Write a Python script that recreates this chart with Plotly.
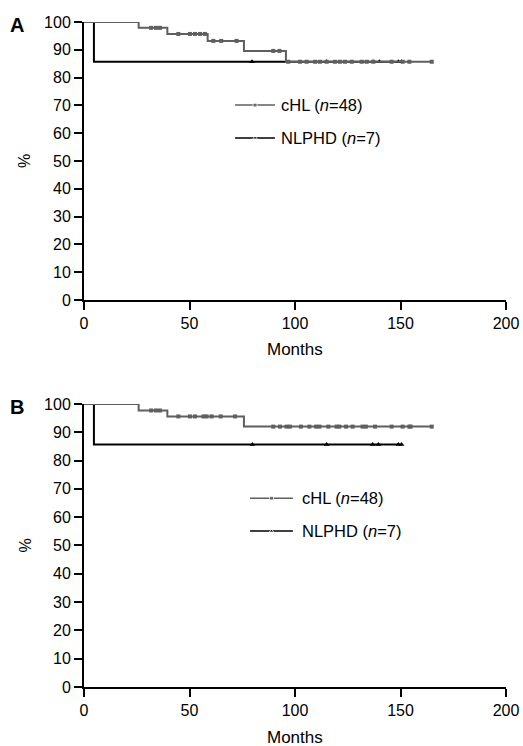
import numpy as np
import plotly.graph_objects as go

# ---------------- data ----------------
# Panel A
chl_a_times = [0, 25.9, 39.5, 58.6, 75.8, 95.7, 165.0]
chl_a_surv = [100, 97.9, 95.7, 93.2, 89.6, 85.7, 85.7]
chl_a_censor = [31.8, 34.1, 36.0, 44.7, 50.2, 52.6, 55.0, 57.3, 61.3, 65.0, 72.3,
                89.7, 92.6, 96.8, 102.4, 105.5, 109.5, 111.8, 115.0, 118.9, 121.3,
                123.7, 126.9, 131.6, 134.0, 137.1, 145.8, 151.0, 154.2, 164.8]
nl_a_times = [0, 4.7, 150.5]
nl_a_surv = [100, 85.7, 85.7]
nl_a_censor = [79.6, 115.0, 137.0, 140.0, 149.0, 150.5]

# Panel B
chl_b_times = [0, 25.9, 39.5, 75.8, 165.0]
chl_b_surv = [100, 97.7, 95.6, 92.0, 92.0]
chl_b_censor = [31.8, 34.1, 36.0, 44.7, 50.2, 52.6, 56.6, 58.1, 60.5, 64.8, 71.6,
                89.7, 92.9, 96.0, 97.6, 102.8, 106.8, 110.0, 111.6, 115.8, 119.7,
                121.0, 124.2, 127.3, 132.0, 133.6, 137.9, 145.8, 151.0, 154.2,
                154.8, 164.8]
nl_b_times = [0, 4.7, 150.5]
nl_b_surv = [100, 85.7, 85.7]
nl_b_censor = [79.8, 115.0, 136.8, 139.5, 149.0, 150.5]

series_labels = ["cHL (<i>n</i>=48)", "NLPHD (<i>n</i>=7)"]
x_ticks = [0, 50, 100, 150, 200]
y_ticks = [0, 10, 20, 30, 40, 50, 60, 70, 80, 90, 100]

GRAY = "#5f5f5f"
BLACK = "#000000"
FONT = "Liberation Sans, Arial, Helvetica, sans-serif"


def step_value(times, surv, t):
    idx = np.searchsorted(np.asarray(times), t, side="right") - 1
    return [surv[i] for i in idx]


fig = go.Figure()

panels = [
    ("x", "y", nl_a_times, nl_a_surv, nl_a_censor, chl_a_times, chl_a_surv, chl_a_censor),
    ("x2", "y2", nl_b_times, nl_b_surv, nl_b_censor, chl_b_times, chl_b_surv, chl_b_censor),
]

for xa, ya, nt, ns, nc, ct, cs, cc in panels:
    fig.add_trace(go.Scatter(x=nt, y=ns, mode="lines", line=dict(color=BLACK, width=2, shape="hv"),
                             xaxis=xa, yaxis=ya, showlegend=False, cliponaxis=False))
    fig.add_trace(go.Scatter(x=nc, y=step_value(nt, ns, nc), mode="markers",
                             marker=dict(symbol="triangle-up", size=5, color=BLACK),
                             xaxis=xa, yaxis=ya, showlegend=False, cliponaxis=False))
    fig.add_trace(go.Scatter(x=ct, y=cs, mode="lines", line=dict(color=GRAY, width=2, shape="hv"),
                             xaxis=xa, yaxis=ya, showlegend=False, cliponaxis=False))
    fig.add_trace(go.Scatter(x=cc, y=step_value(ct, cs, cc), mode="markers",
                             marker=dict(symbol="square", size=4, color=GRAY),
                             xaxis=xa, yaxis=ya, showlegend=False, cliponaxis=False))

# in-plot legends (x0, x1, text x, y cHL, y NLPHD) per panel
legend_pos = [("x", "y", 71.6, 90.5, 92.4, 70.1, 58.3),
              ("x2", "y2", 78.7, 99.0, 102.4, 66.7, 55.1)]
for xa, ya, x0, x1, xt, yc, yn in legend_pos:
    for yy, col, sym, lab in [(yc, GRAY, "square", series_labels[0]),
                              (yn, BLACK, "triangle-up", series_labels[1])]:
        fig.add_trace(go.Scatter(x=[x0, (x0 + x1) / 2, x1], y=[yy, yy, yy], mode="lines+markers",
                                 line=dict(color=col, width=1.5),
                                 marker=dict(symbol=sym, size=[0, 4, 0], color=col),
                                 xaxis=xa, yaxis=ya, showlegend=False, hoverinfo="skip"))
        fig.add_annotation(x=xt, y=yy, xref=xa, yref=ya, text=lab, showarrow=False,
                           xanchor="left", yanchor="middle",
                           font=dict(family=FONT, size=16.5, color="black"))

axis_common = dict(showline=True, linecolor="black", linewidth=2, ticks="outside",
                   ticklen=8, tickwidth=1.5, tickcolor="black", showgrid=False, zeroline=False,
                   automargin=False,
                   tickfont=dict(family=FONT, size=16, color="black"))

fig.update_layout(
    width=523, height=746,
    margin=dict(l=84, r=17, t=22, b=59),
    plot_bgcolor="white", paper_bgcolor="white",
    xaxis=dict(range=[0, 200], tickvals=x_ticks, anchor="y", domain=[0, 1], **axis_common),
    yaxis=dict(range=[0, 100], tickvals=y_ticks, anchor="x", domain=[0.582, 1], **axis_common),
    xaxis2=dict(range=[0, 200], tickvals=x_ticks, anchor="y2", domain=[0, 1], **axis_common),
    yaxis2=dict(range=[0, 100], tickvals=y_ticks, anchor="x2", domain=[0, 0.4256], **axis_common),
)

for xa, ya, panel in [("x", "y", "A"), ("x2", "y2", "B")]:
    xd = xa + " domain"
    yd = ya + " domain"
    fig.add_annotation(x=0.5, y=0, xref=xd, yref=yd, text="Months", showarrow=False,
                       xanchor="center", yanchor="middle", yshift=-50,
                       font=dict(family=FONT, size=17, color="black"))
    fig.add_annotation(x=0, y=0.5, xref="paper", yref=yd, text="%", showarrow=False,
                       xanchor="center", yanchor="middle", xshift=-59, textangle=-90,
                       font=dict(family=FONT, size=16, color="black"))
    fig.add_annotation(x=0, y=1, xref="paper", yref=yd, text="<b>" + panel + "</b>",
                       showarrow=False, xanchor="center", yanchor="middle", xshift=-67, yshift=-3,
                       font=dict(family=FONT, size=20, color="black"))

fig.write_html("out.html", config={"displayModeBar": False},
               post_script="document.body.style.margin='0';")
